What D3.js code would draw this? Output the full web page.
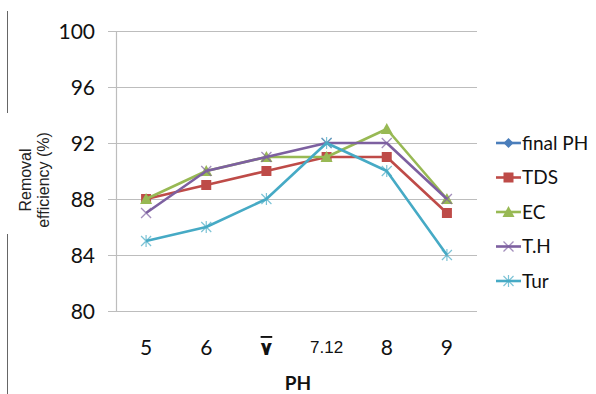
<!DOCTYPE html>
<html>
<head>
<meta charset="utf-8">
<script src="https://cdn.jsdelivr.net/npm/d3@7/dist/d3.min.js"></script>
<style>
  html, body { margin: 0; padding: 0; background: #fff; }
  svg { display: block; }
</style>
</head>
<body>
<svg id="chart" width="596" height="394"></svg>
<script>
// pH levels tested (category labels on the x axis)
const categories = ["5", "6", "\u0667", "7.12", "8", "9"];
// Removal efficiency (%) per parameter
const finalPH = [5, 6, 7, 7.12, 8, 9];
const tds     = [88, 89, 90, 91, 91, 87];
const ec      = [88, 90, 91, 91, 93, 88];
const th      = [87, 90, 91, 92, 92, 88];
const tur     = [85, 86, 88, 92, 90, 84];
const yTicks  = [80, 84, 88, 92, 96, 100];

const series = [
  { name: "final PH", values: finalPH, color: "#4a7ebb", marker: "diamond" },
  { name: "TDS",      values: tds,     color: "#be4b48", marker: "square" },
  { name: "EC",       values: ec,      color: "#98b954", marker: "triangle" },
  { name: "T.H",      values: th,      color: "#7d60a0", marker: "x" },
  { name: "Tur",      values: tur,     color: "#46aac5", marker: "star" }
];

const svg = d3.select("#chart");
const plot = { left: 116, right: 477, top: 31, bottom: 311 };

const x = d3.scaleBand().domain(categories).range([plot.left, plot.right]);
const y = d3.scaleLinear().domain([80, 100]).range([plot.bottom, plot.top]);

// frame lines at the left edge
svg.append("line").attr("x1", 7.5).attr("x2", 7.5).attr("y1", 11).attr("y2", 113)
  .attr("stroke", "#666").attr("stroke-width", 1);
svg.append("line").attr("x1", 7.5).attr("x2", 7.5).attr("y1", 234).attr("y2", 394)
  .attr("stroke", "#666").attr("stroke-width", 1);

// horizontal gridlines with y-axis labels
const yAxis = d3.axisLeft(y).tickValues(yTicks).tickSize(-(plot.right - plot.left)).tickPadding(21);
const gy = svg.append("g").attr("transform", `translate(${plot.left},0)`).call(yAxis);
gy.select(".domain").remove();
gy.selectAll(".tick line").attr("x1", -8).attr("stroke", "#bdbdbd").attr("stroke-width", 1.2);
gy.selectAll(".tick text")
  .attr("font-family", "Lato, 'Open Sans', sans-serif")
  .attr("font-size", 21).attr("fill", "#111")
  .attr("dy", "0.36em");

// vertical axis line
svg.append("line").attr("x1", plot.left + 0.5).attr("x2", plot.left + 0.5)
  .attr("y1", plot.top).attr("y2", plot.bottom).attr("stroke", "#bdbdbd").attr("stroke-width", 1.2);

// x-axis category labels
const xAxis = d3.axisBottom(x).tickSize(0);
const gx = svg.append("g").attr("transform", `translate(0,${plot.bottom})`).call(xAxis);
gx.select(".domain").remove();
gx.selectAll(".tick text")
  .attr("y", (d) => d === "7.12" ? 42 : 44)
  .attr("dy", 0)
  .attr("font-family", (d) => d === "7.12" ? "'Liberation Sans', Arial, sans-serif"
        : d === "\u0667" ? "'DejaVu Sans', sans-serif" : "Lato, 'Open Sans', sans-serif")
  .attr("font-size", (d) => d === "7.12" ? 17 : d === "\u0667" ? 19 : 21)
  .attr("font-weight", (d) => d === "\u0667" ? "bold" : "normal")
  .style("text-decoration", (d) => d === "\u0667" ? "overline" : null)
  .attr("fill", "#111");

// axis titles
svg.append("text").attr("x", 298).attr("y", 390).attr("text-anchor", "middle")
  .attr("font-family", "Lato, 'Open Sans', sans-serif").attr("font-weight", "bold")
  .attr("font-size", 19).attr("fill", "#111").text("PH");

const yTitle = svg.append("text")
  .attr("transform", "translate(0,180) rotate(-90)")
  .attr("text-anchor", "middle")
  .attr("font-family", "'Liberation Sans', Arial, sans-serif")
  .attr("font-size", 16).attr("fill", "#222");
yTitle.append("tspan").attr("x", 0).attr("y", 31).text("Removal");
yTitle.append("tspan").attr("x", 0).attr("y", 49).text("efficiency (%)");

// clip data to the plot area
svg.append("clipPath").attr("id", "plotClip").append("rect")
  .attr("x", plot.left).attr("y", plot.top - 6)
  .attr("width", plot.right - plot.left).attr("height", plot.bottom - plot.top + 6);

const cx = (i) => x(categories[i]) + x.bandwidth() / 2;
const line = d3.line().x((d, i) => cx(i)).y((d) => y(d));

function drawMarker(g, type, color, px, py) {
  if (type === "square") {
    g.append("rect").attr("x", px - 5).attr("y", py - 5).attr("width", 10).attr("height", 10).attr("fill", color);
  } else if (type === "triangle") {
    g.append("path").attr("d", `M${px},${py - 6}L${px + 6},${py + 5}L${px - 6},${py + 5}Z`).attr("fill", color);
  } else if (type === "diamond") {
    g.append("path").attr("d", `M${px},${py - 5}L${px + 5},${py}L${px},${py + 5}L${px - 5},${py}Z`).attr("fill", color);
  } else if (type === "x") {
    g.append("path").attr("d", `M${px - 5},${py - 5}L${px + 5},${py + 5}M${px - 5},${py + 5}L${px + 5},${py - 5}`)
      .attr("stroke", color).attr("stroke-width", 1.3).attr("opacity", 0.7);
  } else if (type === "star") {
    g.append("path").attr("d", `M${px - 5},${py - 5}L${px + 5},${py + 5}M${px - 5},${py + 5}L${px + 5},${py - 5}M${px},${py - 6}L${px},${py + 6}`)
      .attr("stroke", color).attr("stroke-width", 1.2).attr("opacity", 0.7);
  }
}

const dataG = svg.append("g").attr("clip-path", "url(#plotClip)");
series.forEach((s) => {
  const g = dataG.append("g");
  g.append("path").datum(s.values).attr("d", line)
    .attr("fill", "none").attr("stroke", s.color).attr("stroke-width", 2.6).attr("stroke-linejoin", "round");
  s.values.forEach((v, i) => drawMarker(g, s.marker, s.color, cx(i), y(v)));
});

// legend
const legend = svg.append("g");
series.forEach((s, i) => {
  const ly = 143 + i * 34.5;
  legend.append("line").attr("x1", 496).attr("x2", 521).attr("y1", ly).attr("y2", ly)
    .attr("stroke", s.color).attr("stroke-width", 2.6);
  drawMarker(legend, s.marker, s.color, 508.5, ly);
  legend.append("text").attr("x", 522).attr("y", ly).attr("dy", "0.35em")
    .attr("font-family", "Lato, 'Open Sans', sans-serif").attr("font-size", 19).attr("fill", "#111")
    .text(s.name);
});
</script>
</body>
</html>
